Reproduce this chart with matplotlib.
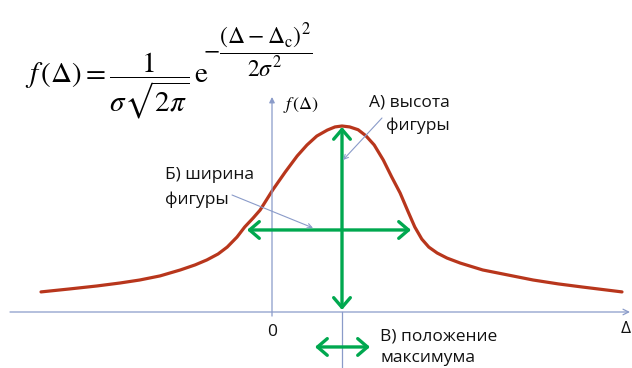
import matplotlib
matplotlib.use('Agg')
import matplotlib.pyplot as plt

# curve points (delta, f) - peak at delta=1, height 1
delta = [-3.30, -2.89, -2.50, -2.17, -1.89, -1.60, -1.31, -1.10, -0.93, -0.77,
         -0.64, -0.50, -0.39, -0.27, -0.17, 0.01, 0.19, 0.36, 0.50, 0.64,
         0.79, 0.90, 1.00, 1.11, 1.23, 1.34, 1.46, 1.59, 1.71, 1.83,
         1.94, 2.04, 2.14, 2.24, 2.36, 2.50, 2.69, 3.01, 3.37, 3.73,
         4.09, 4.44, 5.00]
f = [0.108, 0.124, 0.140, 0.156, 0.172, 0.194, 0.226, 0.253, 0.280, 0.312,
     0.349, 0.403, 0.457, 0.505, 0.548, 0.656, 0.753, 0.839, 0.898, 0.946,
     0.978, 0.995, 1.000, 0.995, 0.980, 0.948, 0.898, 0.817, 0.726, 0.640,
     0.543, 0.457, 0.392, 0.349, 0.317, 0.290, 0.263, 0.226, 0.199, 0.172,
     0.151, 0.134, 0.108]

delta_c = 1.0
f_max = 1.0
width_level = 0.441
width_left, width_right = -0.357, 1.986

labels_a = ['А) высота', 'фигуры']
labels_b = ['Б) ширина', 'фигуры']
labels_c = ['В) положение', 'максимума']

green = '#00A84F'
red = '#B8361C'
axcol = '#8A9BC9'

plt.rcParams['mathtext.fontset'] = 'stix'

fig = plt.figure(figsize=(6.32, 3.68), dpi=100)
ax = fig.add_axes([0, 0, 1, 1])
ax.set_xlim(-272 / 70, 360 / 70)
ax.set_ylim(-56 / 186, 312 / 186)
ax.axis('off')

# axes with arrows
ax.annotate('', xy=(5.114, 0), xytext=(-3.743, 0),
            arrowprops=dict(arrowstyle='->', color=axcol, lw=0.9, mutation_scale=10,
                            shrinkA=0, shrinkB=0))
ax.annotate('', xy=(0, 1.156), xytext=(0, -0.022),
            arrowprops=dict(arrowstyle='-|>', color=axcol, lw=0.9, mutation_scale=8,
                            shrinkA=0, shrinkB=0))
ax.plot([delta_c, delta_c], [0, -0.301], color=axcol, lw=0.9)

# the curve
ax.plot(delta, f, color=red, lw=2.3, solid_joinstyle='round', solid_capstyle='round')

# green arrows
gprops = dict(arrowstyle='<->, head_length=0.35, head_width=0.3', color=green, lw=2.4,
              mutation_scale=20, shrinkA=0, shrinkB=0)
ax.annotate('', xy=(delta_c, f_max - 0.005), xytext=(delta_c, 0.011), arrowprops=gprops)
ax.annotate('', xy=(width_left, width_level), xytext=(width_right, width_level), arrowprops=gprops)
ax.annotate('', xy=(0.614, -0.188), xytext=(1.40, -0.188), arrowprops=gprops)

# thin pointer lines
pprops = dict(arrowstyle='->', color=axcol, lw=0.8, mutation_scale=8, shrinkA=0, shrinkB=0)
ax.annotate('', xy=(1.014, 0.817), xytext=(1.571, 1.043), arrowprops=pprops)
ax.annotate('', xy=(0.586, 0.452), xytext=(-0.571, 0.629), arrowprops=pprops)

# labels
tkw = dict(fontsize=12.5, family='Open Sans', color='#111111', va='center')
ax.text(2.54, 1.124, labels_a[0], ha='right', **tkw)
ax.text(2.54, 1.000, labels_a[1], ha='right', **tkw)
ax.text(-1.529, 0.737, labels_b[0], ha='left', **tkw)
ax.text(-1.529, 0.602, labels_b[1], ha='left', **tkw)
ax.text(1.543, -0.134, labels_c[0], ha='left', **tkw)
ax.text(1.543, -0.247, labels_c[1], ha='left', **tkw)
ax.text(0, -0.108, '0', ha='center', **tkw)
ax.text(5.057, -0.091, 'Δ', ha='center', **tkw)
ax.text(0.157, 1.113, r'$f\,(\mathrm{\Delta})$', fontsize=13, va='center', ha='left')

# formula
ax.text(-3.529, 1.220, r'$f\,(\Delta) = \dfrac{1}{\sigma\sqrt{2\pi}}\,\mathrm{e}$',
        fontsize=21, va='center', ha='left')
ax.text(-0.986, 1.41, r'$-\dfrac{(\Delta - \Delta_{\mathrm{c}})^2}{2\sigma^2}$',
        fontsize=17, va='center', ha='left')

fig.savefig('out.png', dpi=100)
